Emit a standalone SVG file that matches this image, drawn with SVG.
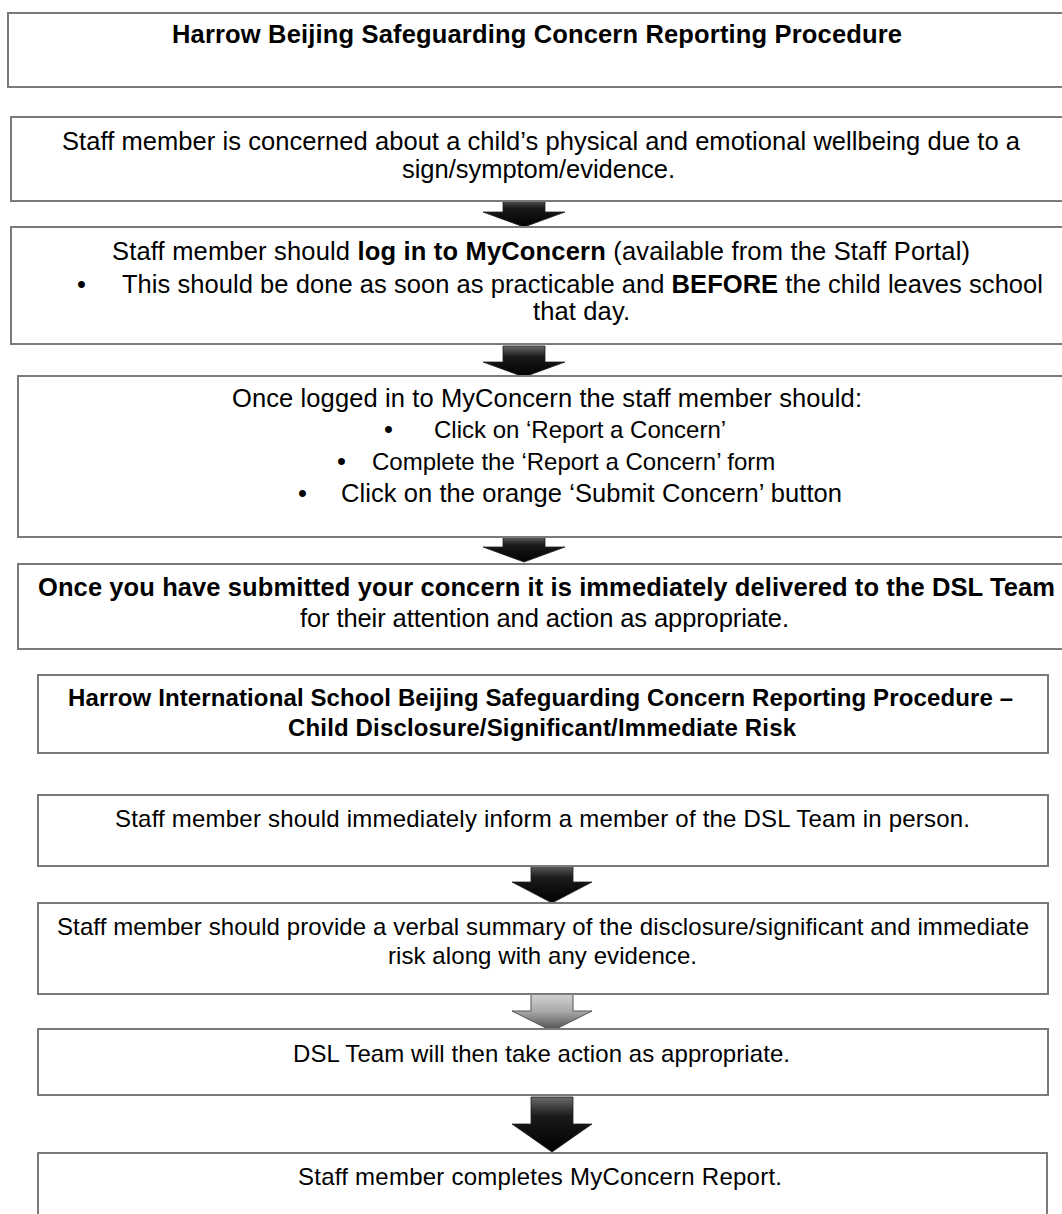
<svg xmlns="http://www.w3.org/2000/svg" width="1062" height="1214" viewBox="0 0 1062 1214">
<style>
.box{fill:#fff;stroke:#7a7a7a;stroke-width:2}
.t{font-family:"Liberation Sans",Arial,sans-serif;font-size:24px;fill:#000}
.u{font-size:25.5px}
.b{font-weight:bold}
.arr{fill:url(#gBlack);stroke:#222;stroke-width:0.8}
.arrg{fill:url(#gGrey);stroke:#555;stroke-width:1}
</style>
<defs>
<linearGradient id="gBlack" x1="0" y1="0" x2="0" y2="1">
<stop offset="0" stop-color="#6a6a6a"/>
<stop offset="0.35" stop-color="#1a1a1a"/>
<stop offset="1" stop-color="#000"/>
</linearGradient>
<linearGradient id="gGrey" x1="0" y1="0" x2="0" y2="1">
<stop offset="0" stop-color="#d8d8d8"/>
<stop offset="0.5" stop-color="#a8a8a8"/>
<stop offset="1" stop-color="#4a4a4a"/>
</linearGradient>
</defs>
<rect width="1062" height="1214" fill="#fff"/>

<g id="connectors">
<path class="arr" d="M503,198 H545 V212 H565 L524,227 L483,212 H503 Z"/>
<path class="arr" d="M503,346 H545 V362 H565 L524,377 L483,362 H503 Z"/>
<path class="arr" d="M503,536 H545 V547 H565 L524,562 L483,547 H503 Z"/>
<path class="arr" d="M531,864 H573 V882 H592 L552,903 L512,882 H531 Z"/>
<path class="arrg" d="M531,992 H573 V1011 H592 L552,1031 L512,1011 H531 Z"/>
<path class="arr" d="M531,1097 H573 V1124 H592 L552,1152 L512,1124 H531 Z"/>
</g>

<g id="node-title">
<rect class="box" x="8" y="13" width="1070" height="74"/>
<text class="t u b" x="172" y="43" textLength="730" lengthAdjust="spacing">Harrow Beijing Safeguarding Concern Reporting Procedure</text>
</g>

<g id="node-concerned">
<rect class="box" x="11" y="117" width="1070" height="84"/>
<text class="t u" x="62" y="150" textLength="958" lengthAdjust="spacing">Staff member is concerned about a child’s physical and emotional wellbeing due to a</text>
<text class="t u" x="402" y="178" textLength="273" lengthAdjust="spacing">sign/symptom/evidence.</text>
</g>

<g id="node-login">
<rect class="box" x="11" y="227" width="1070" height="117"/>
<text class="t u" x="112" y="260" textLength="858" lengthAdjust="spacing">Staff member should <tspan class="b">log in to MyConcern</tspan> (available from the Staff Portal)</text>
<text class="t u" x="77" y="293">•</text>
<text class="t u" x="122" y="293" textLength="921" lengthAdjust="spacing">This should be done as soon as practicable and <tspan class="b">BEFORE</tspan> the child leaves school</text>
<text class="t u" x="533" y="320" textLength="97" lengthAdjust="spacing">that day.</text>
</g>

<g id="node-report">
<rect class="box" x="18" y="376" width="1070" height="161"/>
<text class="t u" x="232" y="407" textLength="630" lengthAdjust="spacing">Once logged in to MyConcern the staff member should:</text>
<text class="t u" x="384" y="438">•</text>
<text class="t" x="434" y="438">Click on ‘Report a Concern’</text>
<text class="t u" x="337" y="470">•</text>
<text class="t" x="372" y="470">Complete the ‘Report a Concern’ form</text>
<text class="t u" x="298" y="502">•</text>
<text class="t u" x="341" y="502" textLength="501" lengthAdjust="spacing">Click on the orange ‘Submit Concern’ button</text>
</g>

<g id="node-delivered">
<rect class="box" x="18" y="564" width="1070" height="85"/>
<text class="t u b" x="38" y="596" textLength="1017" lengthAdjust="spacing">Once you have submitted your concern it is immediately delivered to the DSL Team</text>
<text class="t u" x="300" y="627" textLength="489" lengthAdjust="spacing">for their attention and action as appropriate.</text>
</g>

<g id="node-title2">
<rect class="box" x="38" y="675" width="1010" height="78"/>
<text class="t b" x="68" y="706" textLength="945" lengthAdjust="spacing">Harrow International School Beijing Safeguarding Concern Reporting Procedure –</text>
<text class="t b" x="288" y="736" textLength="508" lengthAdjust="spacing">Child Disclosure/Significant/Immediate Risk</text>
</g>

<g id="node-inform">
<rect class="box" x="38" y="795" width="1010" height="71"/>
<text class="t" x="115" y="827" textLength="855" lengthAdjust="spacing">Staff member should immediately inform a member of the DSL Team in person.</text>
</g>

<g id="node-summary">
<rect class="box" x="38" y="903" width="1010" height="91"/>
<text class="t" x="57" y="935" textLength="972" lengthAdjust="spacing">Staff member should provide a verbal summary of the disclosure/significant and immediate</text>
<text class="t" x="388" y="964" textLength="309" lengthAdjust="spacing">risk along with any evidence.</text>
</g>

<g id="node-action">
<rect class="box" x="38" y="1029" width="1010" height="66"/>
<text class="t" x="293" y="1062" textLength="497" lengthAdjust="spacing">DSL Team will then take action as appropriate.</text>
</g>

<g id="node-complete">
<rect class="box" x="38" y="1153" width="1009" height="80"/>
<text class="t" x="298" y="1185" textLength="484" lengthAdjust="spacing">Staff member completes MyConcern Report.</text>
</g>
</svg>
